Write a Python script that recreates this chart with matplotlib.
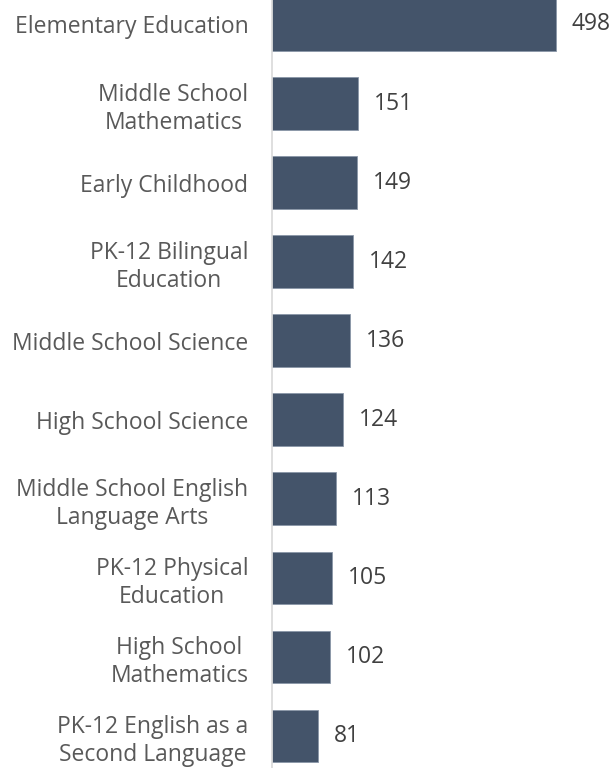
import matplotlib
matplotlib.use("Agg")
import matplotlib.pyplot as plt
import numpy as np

# chart data
categories = [
    "Elementary Education",
    "Middle School\nMathematics",
    "Early Childhood",
    "PK-12 Bilingual\nEducation",
    "Middle School Science",
    "High School Science",
    "Middle School English\nLanguage Arts",
    "PK-12 Physical\nEducation",
    "High School\nMathematics",
    "PK-12 English as a\nSecond Language",
]
counts = [498, 151, 149, 142, 136, 124, 113, 105, 102, 81]

bar_color = "#44546A"
plt.rcParams["font.family"] = ["Open Sans", "DejaVu Sans"]

fig = plt.figure(figsize=(6.13, 7.68), dpi=100)
ax = fig.add_axes([272 / 613, 0, 1 - 272 / 613, 1])

y = np.arange(len(categories))
ax.barh(y, counts, height=0.66, color=bar_color, edgecolor="#8a96a8", linewidth=0.6)

ax.set_xlim(0, 598)
ax.set_ylim(9.41, -0.31)

# value labels right of each bar
for yi, v in zip(y, counts):
    ax.annotate(str(v), (v, yi), xytext=(11.5, 0), textcoords="offset points",
                va="center", ha="left", fontsize=16.5, color="#404040")

ax.set_yticks(y)
ax.set_yticklabels(categories, fontsize=16.5, color="#595959",
                   multialignment="center", linespacing=1.25)
ax.tick_params(axis="y", length=0, pad=17)
ax.set_xticks([])

for side in ["top", "right", "bottom"]:
    ax.spines[side].set_visible(False)
ax.spines["left"].set_color("#d9d9d9")
ax.spines["left"].set_linewidth(1.2)

fig.savefig("out.png", dpi=100)
